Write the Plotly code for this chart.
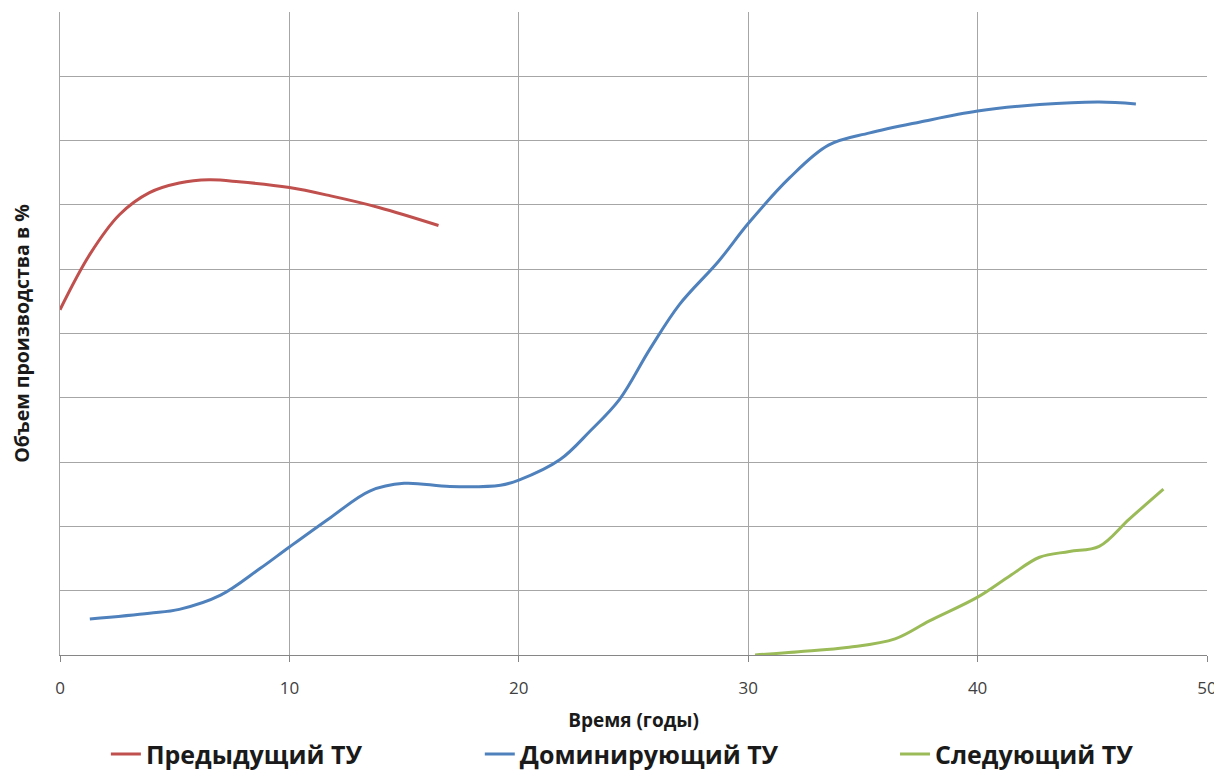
"""
Жизненный цикл технологических укладов (ТУ): объем производства во времени.
"""
import plotly.graph_objects as go

# Data
prev_x = [0, 1.3, 2.6, 3.9, 5.2, 6.5, 7.8, 10, 11.8, 13.9, 16.5]
prev_y = [53.7, 62.3, 68.5, 71.9, 73.4, 73.9, 73.6, 72.7, 71.4, 69.6, 66.8]

dom_x = [1.3, 3.9, 5.2, 7.0, 8.7, 10, 11.8, 13.5, 15, 17, 19.2, 20, 21.8, 23.1,
         24.4, 25.7, 27, 28.7, 30, 31.8, 33.5, 35.3, 37.5, 40, 42.7, 45.3, 46.9]
dom_y = [5.6, 6.5, 7.1, 9.3, 13.4, 16.8, 21.4, 25.5, 26.7, 26.2, 26.4, 27.2, 30.4, 34.8,
         39.8, 47.5, 54.5, 61.2, 67.1, 74.2, 79.3, 81.2, 82.9, 84.6, 85.6, 86.0, 85.7]

next_x = [30.3, 32.2, 34.4, 36.4, 37.9, 40, 41.4, 42.7, 44, 45.3, 46.6, 48.1]
next_y = [0, 0.5, 1.2, 2.5, 5.3, 9.0, 12.3, 15.2, 16.1, 16.9, 21.1, 25.8]

# name, x, y, colour, legend id
series = [
    ("Предыдущий ТУ", prev_x, prev_y, "#C0504D", "legend"),
    ("Доминирующий ТУ", dom_x, dom_y, "#4F81BD", "legend2"),
    ("Следующий ТУ", next_x, next_y, "#9BBB59", "legend3"),
]

FONT = "Open Sans, Liberation Sans, sans-serif"
GRID = "#A6A6A6"

fig = go.Figure()
for name, xs, ys, color, leg in series:
    fig.add_trace(go.Scatter(
        x=xs, y=ys, name=name, mode="lines", legend=leg, showlegend=True,
        line=dict(color=color, width=3, shape="spline", smoothing=1.0),
    ))


def legend_at(x):
    # one small legend per series so the entries sit where the original has them
    return dict(
        orientation="h",
        x=x, xanchor="left",
        y=-0.117, yanchor="top",
        font=dict(size=25, color="#1a1a1a", weight="bold"),
        itemwidth=30,
        bgcolor="rgba(0,0,0,0)",
    )


# page body adds an 8px offset, so the figure is a bit smaller than the window
fig.update_layout(
    width=1214,
    height=772,
    margin=dict(l=52, r=15, t=4, b=124),
    plot_bgcolor="white",
    paper_bgcolor="white",
    showlegend=True,
    font=dict(family=FONT, color="#404040"),
    legend=legend_at(0.040),
    legend2=legend_at(0.366),
    legend3=legend_at(0.728),
    xaxis=dict(
        range=[0, 50],
        dtick=10,
        showgrid=True,
        gridcolor=GRID,
        gridwidth=1,
        showline=True,
        linecolor="#868686",
        ticks="outside",
        ticklen=6,
        tickcolor="#868686",
        ticklabelstandoff=12,
        tickfont=dict(size=17, color="#404040"),
        title=dict(text="<b>Время (годы)</b>", font=dict(size=19, color="#1a1a1a"), standoff=15),
        zeroline=False,
    ),
    yaxis=dict(
        range=[0, 100],
        dtick=10,
        showgrid=True,
        gridcolor=GRID,
        gridwidth=1,
        showline=True,
        linecolor=GRID,
        showticklabels=False,
        ticks="",
        title=dict(text="<b>Объем производства в %</b>", font=dict(size=19.5, color="#1a1a1a"), standoff=26),
        zeroline=False,
    ),
)

fig.write_html("out.html")
